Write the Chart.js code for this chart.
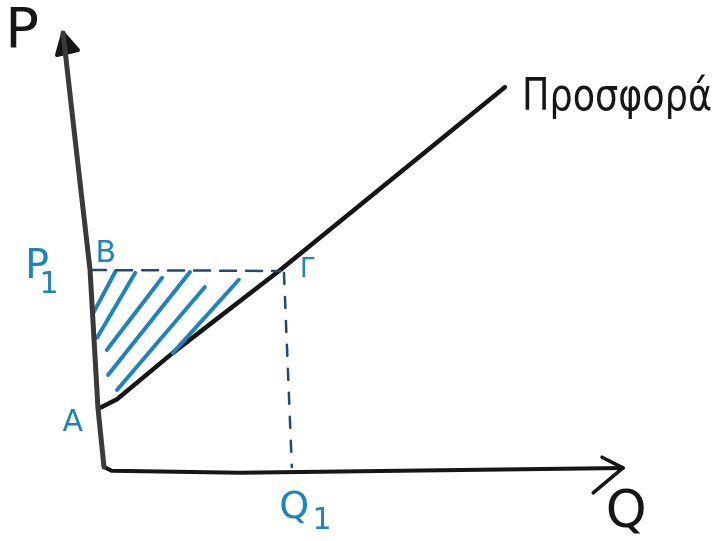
<!DOCTYPE html>
<html>
<head>
<meta charset="utf-8">
<script src="https://cdn.jsdelivr.net/npm/chart.js@4.4.0/dist/chart.umd.min.js"></script>
<style>
  html, body { margin: 0; padding: 0; background: #fff; }
  #wrap { width: 716px; height: 541px; position: relative; }
</style>
</head>
<body>
<div id="wrap"><canvas id="supplyChart"></canvas></div>
<script>
// --- DATA (Q, P units; Q1 = 4, P1 = 4) ---
const yAxisQ = [0, -0.13, -0.30, -0.60, -0.88];
const yAxisP = [-0.04, 1.17, 4.0, 6.5, 8.86];
const yArrowQ = [-1.01, -0.88, -0.56, -1.01];
const yArrowP = [8.41, 8.86, 8.51, 8.41];

const xAxisQ = [0, 0.17, 2.92, 11.16];
const xAxisP = [-0.04, -0.12, -0.16, -0.06];
const xArrowQ = [10.71, 11.16, 10.52];
const xArrowP = [0.16, -0.06, -0.57];

const supplyQ = [-0.09, 0.28, 1.48, 3.79, 8.62];
const supplyP = [1.17, 1.35, 2.30, 4.0, 7.75];

const priceLineQ = [-0.30, 3.79];
const priceLineP = [4.0, 3.98];
const qtyLineQ = [3.87, 4.04];
const qtyLineP = [3.94, -0.04];

// hatch strokes inside triangle A-B-Γ: [qTop, pTop, qBottom, pBottom]
const hatchStrokes = [
    [0.24, 3.96, -0.24, 3.10],
    [0.67, 3.94, -0.15, 2.61],
    [1.25, 3.84, 0.06, 2.36],
    [1.85, 3.96, 0.09, 1.85],
    [2.17, 3.65, 0.28, 1.54],
    [2.90, 3.80, 1.48, 2.30]
];

// labels placed at (Q, P)
const labelTexts = ['P', 'P', '1', 'B', 'Γ', 'A', 'Q', '1', 'Q', 'Προσφορά'];
const labelQ = [-1.76, -1.44, -1.18, 0.04, 4.37, -0.67, 4.09, 4.69, 11.23, 8.99];
const labelP = [8.88, 4.04, 3.69, 4.33, 4.0, 0.86, -0.88, -1.15, -1.0, 7.28];

const BLACK = '#161616';
const BLUE = '#2083bb';
const NAVY = '#234a6c';

const toPts = (qs, ps) => qs.map((q, i) => ({ x: q, y: ps[i] }));

function lineSet(qs, ps, color, width, extra) {
    return Object.assign({
        data: toPts(qs, ps),
        showLine: true,
        borderColor: color,
        backgroundColor: color,
        borderWidth: width,
        pointRadius: 0,
        tension: 0,
        borderCapStyle: 'round',
        borderJoinStyle: 'round',
        fill: false
    }, extra || {});
}

const datasets = [
    lineSet(yAxisQ, yAxisP, '#3a3a3a', 5),
    lineSet(yAxisQ, yAxisP, '#a8a8a8', 1.6),
    lineSet(yArrowQ, yArrowP, BLACK, 4, { fill: 'shape' }),
    lineSet(xAxisQ, xAxisP, BLACK, 4),
    lineSet(xArrowQ, xArrowP, BLACK, 3.5),
    lineSet(priceLineQ, priceLineP, NAVY, 2.5, { borderDash: [16, 10] }),
    lineSet(qtyLineQ, qtyLineP, NAVY, 2.5, { borderDash: [11, 13] })
];

hatchStrokes.forEach(s => {
    datasets.push(lineSet([s[0], s[2]], [s[1], s[3]], BLUE, 4));
});

datasets.push(lineSet(supplyQ, supplyP, BLACK, 4.5));

// --- LABELS PLUGIN ---
const labelPlugin = {
    id: 'diagramLabels',
    afterDatasetsDraw(chart) {
        const { ctx, scales: { x, y } } = chart;
        const styles = [
            { size: 56, color: BLACK, align: 'center' },
            { size: 40, color: BLUE, align: 'center' },
            { size: 30, color: BLUE, align: 'center' },
            { size: 30, color: BLUE, align: 'center' },
            { size: 26, color: BLUE, align: 'center' },
            { size: 30, color: BLUE, align: 'center' },
            { size: 38, color: BLUE, align: 'center' },
            { size: 30, color: BLUE, align: 'center' },
            { size: 52, color: BLACK, align: 'center' },
            { size: 44, color: BLACK, align: 'left', baseline: 'alphabetic', maxWidth: 190 }
        ];
        ctx.save();
        labelTexts.forEach((t, i) => {
            const st = styles[i];
            ctx.font = `${st.size}px "DejaVu Sans", sans-serif`;
            ctx.fillStyle = st.color;
            ctx.textAlign = st.align;
            ctx.textBaseline = st.baseline || 'middle';
            const px = x.getPixelForValue(labelQ[i]);
            const py = y.getPixelForValue(labelP[i]);
            if (st.maxWidth) ctx.fillText(t, px, py, st.maxWidth);
            else ctx.fillText(t, px, py);
        });
        ctx.restore();
    }
};

new Chart(document.getElementById('supplyChart'), {
    type: 'scatter',
    data: { datasets },
    options: {
        responsive: true,
        maintainAspectRatio: false,
        animation: false,
        layout: { padding: 0 },
        plugins: {
            legend: { display: false },
            tooltip: { enabled: false },
            title: { display: false }
        },
        scales: {
            x: { type: 'linear', display: false, min: -2.2366, max: 13.1613 },
            y: { type: 'linear', display: false, min: -1.559, max: 9.5385 }
        }
    },
    plugins: [labelPlugin]
});
</script>
</body>
</html>
